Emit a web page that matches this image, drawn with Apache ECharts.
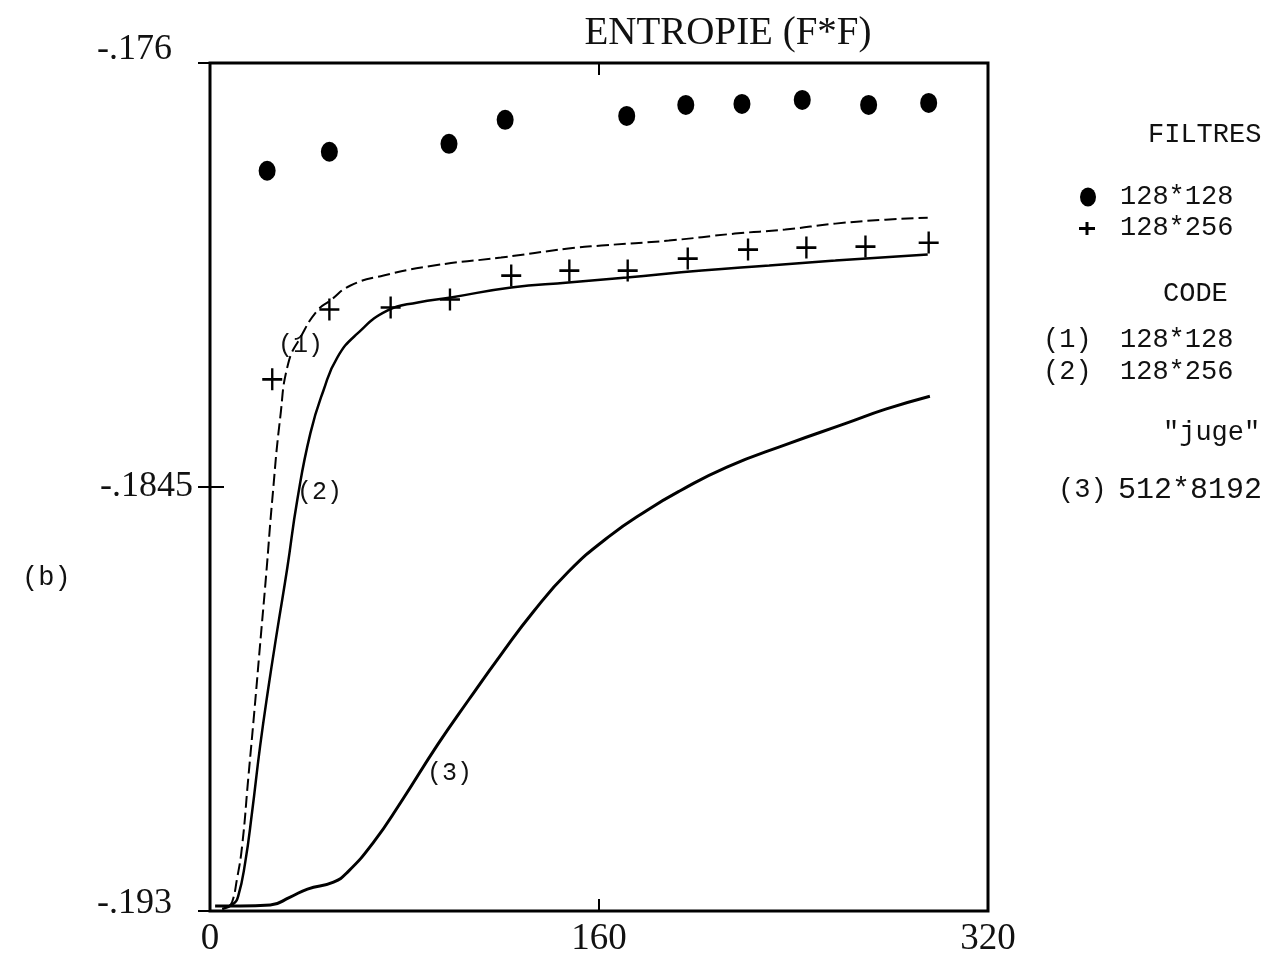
<!DOCTYPE html>
<html><head><meta charset="utf-8">
<script src="https://cdn.jsdelivr.net/npm/echarts@6/dist/echarts.min.js"></script>
<style>html,body{margin:0;padding:0;background:#fff}#c{width:1278px;height:958px}</style>
</head><body><div id="c"></div>
<script>
const chartTitle = 'ENTROPIE (F*F)';
const xTickValues = [0, 160, 320];
const yTickValues = [-0.176, -0.1845, -0.193];
const yTickLabels = ['-.176', '-.1845', '-.193'];

// FILTRES 128*128 (filled dots)
const dotsX = [23.5, 49.1, 98.3, 121.4, 171.4, 195.7, 218.8, 243.6, 270.9, 295.6];
const dotsY = [-0.17816, -0.17778, -0.17762, -0.17714, -0.17706, -0.17684, -0.17682, -0.17674, -0.17684, -0.1768];

// FILTRES 128*256 (plus signs)
const plusX = [25.6, 49.1, 74.3, 98.7, 123.9, 147.8, 171.8, 196.5, 221.3, 245.3, 269.6, 295.6];
const plusY = [-0.18234, -0.18094, -0.1809, -0.18074, -0.18026, -0.18016, -0.18016, -0.17992, -0.17974, -0.1797, -0.17968, -0.1796];

// CODE (1) 128*128 (dashed)
const code1X = [7.4, 9.1, 11.1, 13.2, 15.7, 18.2, 20.6, 23.1, 25.6, 28.9, 32.2, 37.2, 44.2, 49.5, 57.8, 71.4, 92.1, 119.7, 147.4, 161.0, 188.7, 215.9, 236.6, 257.2, 277.9, 295.2];
const code1Y = [-0.19292, -0.19282, -0.19236, -0.1917, -0.19036, -0.18902, -0.18766, -0.18626, -0.18476, -0.1831, -0.18202, -0.1815, -0.18096, -0.18076, -0.18046, -0.18026, -0.18006, -0.1799, -0.17972, -0.17966, -0.17956, -0.17942, -0.17934, -0.17922, -0.17914, -0.1791];

// CODE (2) 128*256 (solid)
const code2X = [5.0, 9.5, 11.6, 14.5, 17.3, 20.6, 23.9, 27.7, 31.8, 35.9, 41.3, 46.7, 52.4, 60.7, 73.1, 85.5, 99.1, 123.9, 147.4, 171.4, 202.3, 230.0, 257.2, 295.2];
const code2Y = [-0.19296, -0.19286, -0.1927, -0.19202, -0.19102, -0.1897, -0.18856, -0.18736, -0.18612, -0.18476, -0.18342, -0.18256, -0.1819, -0.18142, -0.18096, -0.1808, -0.1807, -0.1805, -0.1804, -0.1803, -0.18016, -0.18006, -0.17996, -0.17984];

// "juge" (3) 512*8192 (solid)
const juge3X = [2.1, 12.4, 24.8, 33.0, 40.1, 50.8, 56.6, 67.3, 78.5, 93.7, 106.5, 119.7, 133.0, 147.4, 163.9, 180.0, 193.2, 212.6, 237.4, 261.8, 277.9, 296.1];
const juge3Y = [-0.1929, -0.1929, -0.19288, -0.19272, -0.19256, -0.19242, -0.19222, -0.19162, -0.19082, -0.18966, -0.18876, -0.18786, -0.187, -0.1862, -0.1855, -0.18496, -0.18458, -0.1841, -0.18364, -0.18322, -0.18294, -0.18268];

const legendFiltres = ['128*128', '128*256'];
const legendCode = ['(1)', '128*128', '(2)', '128*256'];
const legendJuge = ['(3)', '512*8192'];

const zip = (xs, ys) => xs.map((x, i) => [x, ys[i]]);
const mono = 'Liberation Mono, DejaVu Sans Mono, monospace';
const serif = 'Liberation Serif, DejaVu Serif, serif';
const plusPath = 'path://M0,9.8 L22,9.8 L22,12.4 L0,12.4 Z M9.7,0 L12.3,0 L12.3,22 L9.7,22 Z';

const chart = echarts.init(document.getElementById('c'), null, {renderer: 'canvas'});

const labelStyleKey = ['t', null, 'b'];
function yFmt(v) {
  let idx = -1;
  yTickValues.forEach((t, i) => { if (Math.abs(t - v) < 1e-7) idx = i; });
  if (idx < 0) return '';
  const k = labelStyleKey[idx];
  return k ? '{' + k + '|' + yTickLabels[idx] + '}' : yTickLabels[idx];
}
const richY = {
  t: {fontFamily: serif, fontSize: 36, color: '#111', padding: [0, 21, 26, 0]},
  b: {fontFamily: serif, fontSize: 36, color: '#111', padding: [0, 21, 14, 0]}
};

function txt(x, y, text, size, font, align) {
  return {type: 'text', x: x, y: y, silent: true,
    style: {text: text, fill: '#111', font: size + 'px ' + font,
      align: align || 'left', verticalAlign: 'middle',
      textAlign: align || 'left', textVerticalAlign: 'middle'}};
}

const option = {
  backgroundColor: '#fff',
  animation: false,
  title: {text: chartTitle, left: 723, top: 9, textAlign: 'center',
    textStyle: {fontFamily: serif, fontSize: 39, fontWeight: 'normal', color: '#111'}},
  grid: {left: 210, right: 290, top: 63, bottom: 46, show: true,
    borderColor: '#000', borderWidth: 3, backgroundColor: 'transparent'},
  xAxis: [{
    type: 'value', min: 0, max: 320, interval: 160, position: 'bottom',
    axisLine: {show: false}, splitLine: {show: false},
    axisTick: {show: true, inside: true, length: 12, lineStyle: {color: '#000', width: 2}},
    axisLabel: {fontFamily: serif, fontSize: 37, color: '#111', margin: 10,
      formatter: v => xTickValues.includes(v) ? String(v) : ''}
  }, {
    type: 'value', min: 0, max: 320, interval: 160, position: 'top',
    axisLine: {show: false}, splitLine: {show: false}, axisLabel: {show: false},
    axisTick: {show: true, inside: true, length: 12, lineStyle: {color: '#000', width: 2}}
  }],
  yAxis: [{
    type: 'value', min: -0.193, max: -0.176, position: 'left',
    axisLine: {show: false}, splitLine: {show: false},
    axisTick: {show: true, inside: true, length: 14, customValues: yTickValues, lineStyle: {color: '#000', width: 2}},
    axisLabel: {fontFamily: serif, fontSize: 36, color: '#111', margin: 17,
      customValues: yTickValues, formatter: yFmt, rich: richY}
  }, {
    type: 'value', min: -0.193, max: -0.176, position: 'right',
    axisLine: {show: false}, splitLine: {show: false}, axisLabel: {show: false},
    axisTick: {show: true, inside: true, length: 12, customValues: yTickValues, lineStyle: {color: '#000', width: 2}}
  }],
  series: [
    {name: 'FILTRES 128*128', type: 'scatter', data: zip(dotsX, dotsY),
      symbol: 'circle', symbolSize: [17, 20], itemStyle: {color: '#000', opacity: 1}, z: 5},
    {name: 'FILTRES 128*256', type: 'scatter', data: zip(plusX, plusY),
      symbol: plusPath, symbolSize: [20, 22], itemStyle: {color: '#000', opacity: 1}, z: 5},
    {name: 'CODE (1) 128*128', type: 'line', data: zip(code1X, code1Y), showSymbol: false,
      smooth: 0.5, lineStyle: {color: '#000', width: 2, type: [12, 5]}},
    {name: 'CODE (2) 128*256', type: 'line', data: zip(code2X, code2Y), showSymbol: false,
      smooth: 0.5, lineStyle: {color: '#000', width: 2.5}},
    {name: 'juge (3) 512*8192', type: 'line', data: zip(juge3X, juge3Y), showSymbol: false,
      smooth: 0.5, lineStyle: {color: '#000', width: 3}}
  ],
  graphic: [
    txt(1148, 135, 'FILTRES', 27, mono),
    {type: 'circle', x: 1088, y: 197, scaleY: 1.2, shape: {r: 8}, style: {fill: '#000'}, silent: true},
    txt(1120, 197, legendFiltres[0], 27, mono),
    {type: 'rect', x: 1079, y: 227, shape: {width: 16, height: 3}, style: {fill: '#000'}, silent: true},
    {type: 'rect', x: 1085.5, y: 222, shape: {width: 3, height: 13}, style: {fill: '#000'}, silent: true},
    txt(1120, 228, legendFiltres[1], 27, mono),
    txt(1163, 294, 'CODE', 27, mono),
    txt(1043, 340, legendCode[0], 27, mono),
    txt(1120, 340, legendCode[1], 27, mono),
    txt(1043, 372, legendCode[2], 27, mono),
    txt(1120, 372, legendCode[3], 27, mono),
    txt(1163, 433, '"juge"', 27, mono),
    txt(1058, 490, legendJuge[0], 27, mono),
    txt(1118, 490, legendJuge[1], 30, mono),
    txt(22, 578, '(b)', 27, mono),
    txt(278, 345, '(1)', 25, mono),
    txt(297, 492, '(2)', 25, mono),
    txt(427, 773, '(3)', 25, mono)
  ]
};
chart.setOption(option);
</script>
</body></html>
